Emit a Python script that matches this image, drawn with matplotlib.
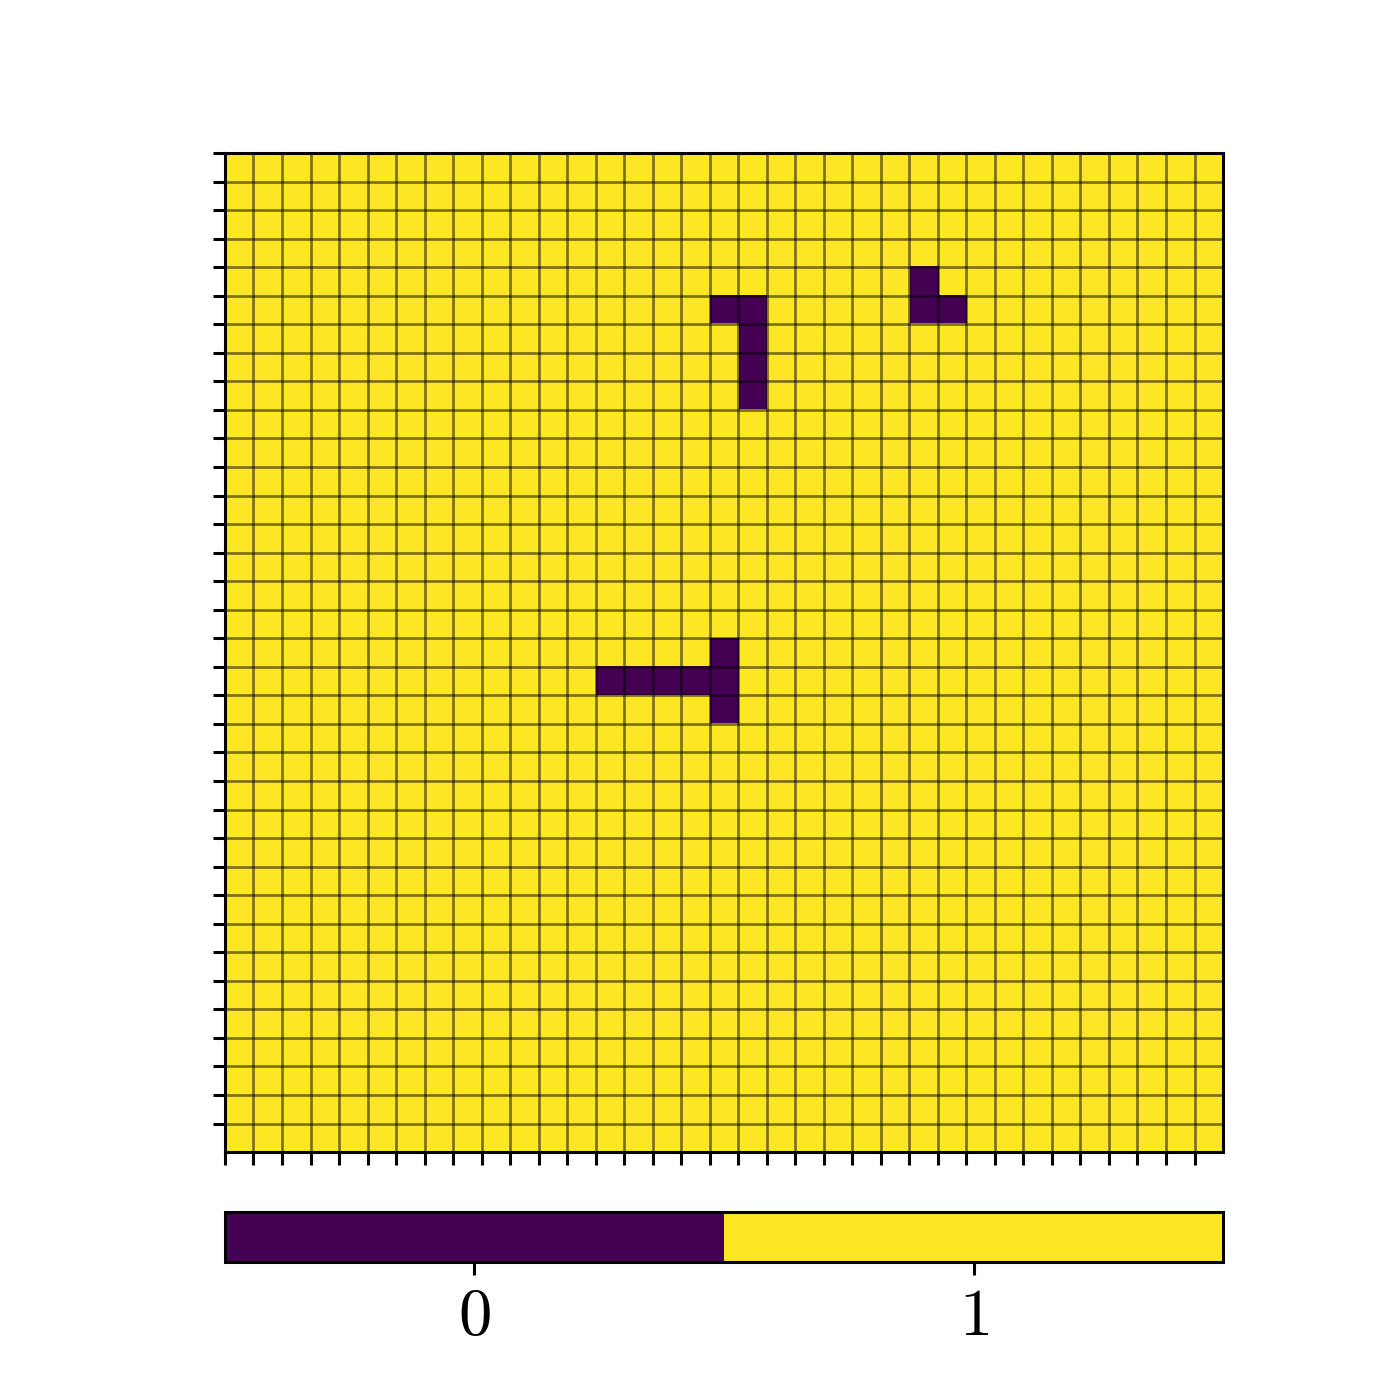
import numpy as np
import matplotlib
matplotlib.use("Agg")
import matplotlib.pyplot as plt

plt.rcParams['mathtext.fontset'] = 'cm'
plt.rcParams['font.family'] = 'serif'

# grid size and the dead cells (row, col)
n = 35
dead_rows = [4, 5, 5, 5, 5, 6, 7, 8, 5, 17, 18, 18, 18, 18, 18, 19]
dead_cols = [24, 24, 25, 17, 18, 18, 18, 18, 17, 17, 13, 14, 15, 16, 17, 17]
cbar_ticks = [0, 1]
cbar_labels = ['$0$', '$1$']

board = np.ones((n, n), dtype=int)
board[dead_rows, dead_cols] = 0

fig = plt.figure(figsize=(7, 7), dpi=200)
ax = fig.add_axes([0.1607, 0.1771, 0.7129, 0.7136])
cax = fig.add_axes([0.1607, 0.0986, 0.7129, 0.0357])

im = ax.imshow(board, cmap='viridis', vmin=-0.5, vmax=1.5, aspect='auto',
               interpolation='nearest')
# two-colour cmap look: 0 -> dark purple, 1 -> yellow
cmap = matplotlib.colors.ListedColormap(['#440154', '#fde725'])
im.set_cmap(cmap)

ticks = np.arange(-0.5, n - 1, 1)
ax.set_xticks(ticks)
ax.set_yticks(ticks)
ax.set_xticklabels([])
ax.set_yticklabels([])
ax.set_xlim(-0.5, n - 0.5)
ax.set_ylim(n - 0.5, -0.5)
ax.grid(True, color='black', linewidth=1.0, alpha=0.5)
ax.tick_params(length=4.5, width=1.1)
for s in ax.spines.values():
    s.set_linewidth(1.1)

cb = fig.colorbar(im, cax=cax, orientation='horizontal')
cb.set_ticks(cbar_ticks)
cb.set_ticklabels(cbar_labels)
cb.ax.tick_params(labelsize=24, length=4.5, width=1.1)
cb.outline.set_linewidth(1.1)

fig.savefig('out.png', dpi=200)
